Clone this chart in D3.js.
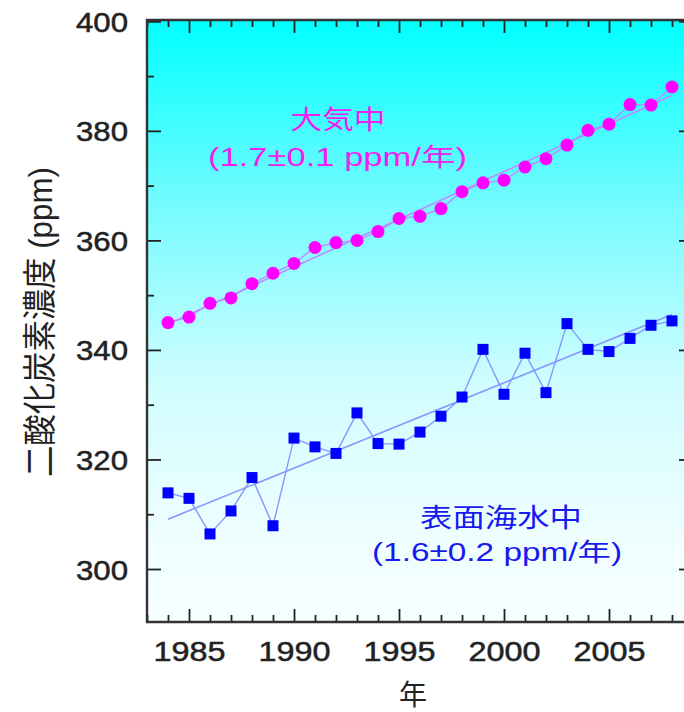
<!DOCTYPE html>
<html>
<head>
<meta charset="utf-8">
<script src="https://cdn.jsdelivr.net/npm/d3@7"></script>
<style>
  body { margin: 0; background: #fff; }
  text { font-family: "Liberation Sans", Arial, "Noto Sans CJK JP", sans-serif; }
</style>
</head>
<body>
<script>
const years = [1984, 1985, 1986, 1987, 1988, 1989, 1990, 1991, 1992, 1993, 1994, 1995,
  1996, 1997, 1998, 1999, 2000, 2001, 2002, 2003, 2004, 2005, 2006, 2007, 2008];

// 大気中
const atmosphere = [345.0, 346.0, 348.5, 349.5, 352.1, 354.0, 355.8, 358.7, 359.6, 360.0, 361.6, 364.0,
  364.4, 365.8, 368.9, 370.5, 371.0, 373.4, 374.9, 377.4, 380.1, 381.2, 384.8, 384.7, 388.0];

// 表面海水中
const seawater = [313.9, 312.9, 306.4, 310.6, 316.7, 307.9, 323.9, 322.3, 321.1, 328.5, 322.9, 322.8,
  325.0, 327.9, 331.4, 340.1, 331.9, 339.4, 332.2, 344.8, 340.1, 339.7, 342.1, 344.5, 345.3];

const xMajor = [1985, 1990, 1995, 2000, 2005];
const xMinor = [1983, 1984, 1986, 1987, 1988, 1989, 1991, 1992, 1993, 1994, 1996, 1997, 1998,
  1999, 2001, 2002, 2003, 2004, 2006, 2007, 2008, 2009];
const yMajor = [300, 320, 340, 360, 380, 400];
const yMinor = [310, 330, 350, 370, 390];

const labelAtm = ['大気中', '(1.7±0.1 ppm/年)'];
const labelSea = ['表面海水中', '(1.6±0.2 ppm/年)'];
const yTitle = '二酸化炭素濃度 (ppm)';
const xTitle = '年';

const width = 684;
const height = 712;
const plotL = 147, plotR = 693, plotT = 20, plotB = 622;

const x = d3.scaleLinear().domain([1983, 2009]).range([plotL, plotR]);
const y = d3.scaleLinear().domain([300, 400]).range([569, 21.3]);

const svg = d3.select('body').append('svg')
  .attr('width', width)
  .attr('height', height);

const grad = svg.append('defs').append('linearGradient')
  .attr('id', 'bg')
  .attr('x1', 0).attr('y1', 0).attr('x2', 0).attr('y2', 1);
[[0, '#00ffff'], [0.3, '#72fbff'], [0.6, '#cffdff'], [0.85, '#eefeff'], [1, '#f6ffff']]
  .forEach(s => grad.append('stop').attr('offset', s[0]).attr('stop-color', s[1]));

svg.append('rect')
  .attr('x', plotL).attr('y', plotT)
  .attr('width', plotR - plotL).attr('height', plotB - plotT)
  .attr('fill', 'url(#bg)');

// axes, ticks pointing inward
function styleAxis(g) {
  g.select('.domain').remove();
  g.selectAll('.tick line').attr('stroke', '#222').attr('stroke-width', 1.8);
}

svg.append('g').attr('transform', `translate(0,${plotB})`)
  .call(d3.axisBottom(x).tickValues(xMinor).tickSize(-7).tickFormat(''))
  .call(styleAxis);
const xAxis = svg.append('g').attr('transform', `translate(0,${plotB})`)
  .call(d3.axisBottom(x).tickValues(xMajor).tickSize(-13).tickFormat(d3.format('d')))
  .call(styleAxis);
xAxis.selectAll('text')
  .attr('y', 39).attr('dy', null)
  .attr('fill', '#222').attr('stroke', '#222').attr('stroke-width', 0.5)
  .attr('font-size', 27)
  .attr('textLength', 72).attr('lengthAdjust', 'spacingAndGlyphs');

svg.append('g').attr('transform', `translate(0,${plotT})`)
  .call(d3.axisTop(x).tickValues(xMinor).tickSize(-7).tickFormat(''))
  .call(styleAxis);
svg.append('g').attr('transform', `translate(0,${plotT})`)
  .call(d3.axisTop(x).tickValues(xMajor).tickSize(-13).tickFormat(''))
  .call(styleAxis);

svg.append('g').attr('transform', `translate(${plotL},0)`)
  .call(d3.axisLeft(y).tickValues(yMinor).tickSize(-7).tickFormat(''))
  .call(styleAxis);
const yAxis = svg.append('g').attr('transform', `translate(${plotL},0)`)
  .call(d3.axisLeft(y).tickValues(yMajor).tickSize(-14).tickFormat(d3.format('d')))
  .call(styleAxis);
yAxis.selectAll('text')
  .attr('x', -19).attr('dy', 10)
  .attr('fill', '#222').attr('stroke', '#222').attr('stroke-width', 0.5)
  .attr('font-size', 27)
  .attr('textLength', 52).attr('lengthAdjust', 'spacingAndGlyphs');

svg.append('g').attr('transform', `translate(${plotR},0)`)
  .call(d3.axisRight(y).tickValues(yMinor).tickSize(-7).tickFormat(''))
  .call(styleAxis);
svg.append('g').attr('transform', `translate(${plotR},0)`)
  .call(d3.axisRight(y).tickValues(yMajor).tickSize(-14).tickFormat(''))
  .call(styleAxis);

// least squares trend
function trend(vals) {
  const mx = d3.mean(years), my = d3.mean(vals);
  const b = d3.sum(years, (yr, i) => (yr - mx) * (vals[i] - my)) / d3.sum(years, yr => (yr - mx) ** 2);
  const a = my - b * mx;
  return [years[0], years[years.length - 1]].map(yr => [yr, a + b * yr]);
}

const line = d3.line().x(d => x(d[0])).y(d => y(d[1]));

const series = [
  { vals: atmosphere, lineColor: '#b98cff', dotColor: '#ff00ff', shape: 'circle' },
  { vals: seawater, lineColor: '#8796ff', dotColor: '#0000ff', shape: 'square' },
];

series.forEach(s => {
  const pts = years.map((yr, i) => [yr, s.vals[i]]);
  svg.append('path')
    .attr('d', line(trend(s.vals)))
    .attr('fill', 'none').attr('stroke', s.lineColor).attr('stroke-width', 1.6);
  svg.append('path')
    .attr('d', line(pts))
    .attr('fill', 'none').attr('stroke', s.lineColor).attr('stroke-width', 1.4);
  if (s.shape === 'circle') {
    svg.append('g').selectAll('circle')
      .data(pts)
      .enter().append('circle')
        .attr('cx', d => x(d[0]))
        .attr('cy', d => y(d[1]))
        .attr('r', 6.5)
        .attr('fill', s.dotColor);
  } else {
    svg.append('g').selectAll('rect')
      .data(pts)
      .enter().append('rect')
        .attr('x', d => x(d[0]) - 5.5)
        .attr('y', d => y(d[1]) - 5.5)
        .attr('width', 11).attr('height', 11)
        .attr('fill', s.dotColor);
  }
});

// frame
svg.append('path')
  .attr('d', `M${plotR + 10},${plotT} H${plotL} V${plotB} H${plotR + 10}`)
  .attr('fill', 'none').attr('stroke', '#333').attr('stroke-width', 2.4);

// series labels
const atmText = svg.append('g').attr('fill', '#f020f0').attr('text-anchor', 'middle');
atmText.append('text').attr('x', 338).attr('y', 129).attr('font-size', 26)
  .attr('textLength', 95).attr('lengthAdjust', 'spacingAndGlyphs')
  .text(labelAtm[0]);
atmText.append('text').attr('x', 337.5).attr('y', 166).attr('font-size', 25)
  .attr('textLength', 259).attr('lengthAdjust', 'spacingAndGlyphs')
  .text(labelAtm[1]);

const seaText = svg.append('g').attr('fill', '#1818f0').attr('text-anchor', 'middle');
seaText.append('text').attr('x', 501).attr('y', 527).attr('font-size', 26)
  .attr('textLength', 162).attr('lengthAdjust', 'spacingAndGlyphs')
  .text(labelSea[0]);
seaText.append('text').attr('x', 497).attr('y', 561).attr('font-size', 25)
  .attr('textLength', 250).attr('lengthAdjust', 'spacingAndGlyphs')
  .text(labelSea[1]);

// axis titles
svg.append('text')
  .attr('transform', 'translate(40,322) scale(1.2,1) rotate(-90)')
  .attr('text-anchor', 'middle').attr('dy', '0.35em')
  .attr('font-size', 28).attr('fill', '#222')
  .attr('textLength', 310).attr('lengthAdjust', 'spacingAndGlyphs')
  .text(yTitle);

svg.append('text')
  .attr('x', 413).attr('y', 705)
  .attr('text-anchor', 'middle')
  .attr('font-size', 28).attr('fill', '#222')
  .text(xTitle);
</script>
</body>
</html>
